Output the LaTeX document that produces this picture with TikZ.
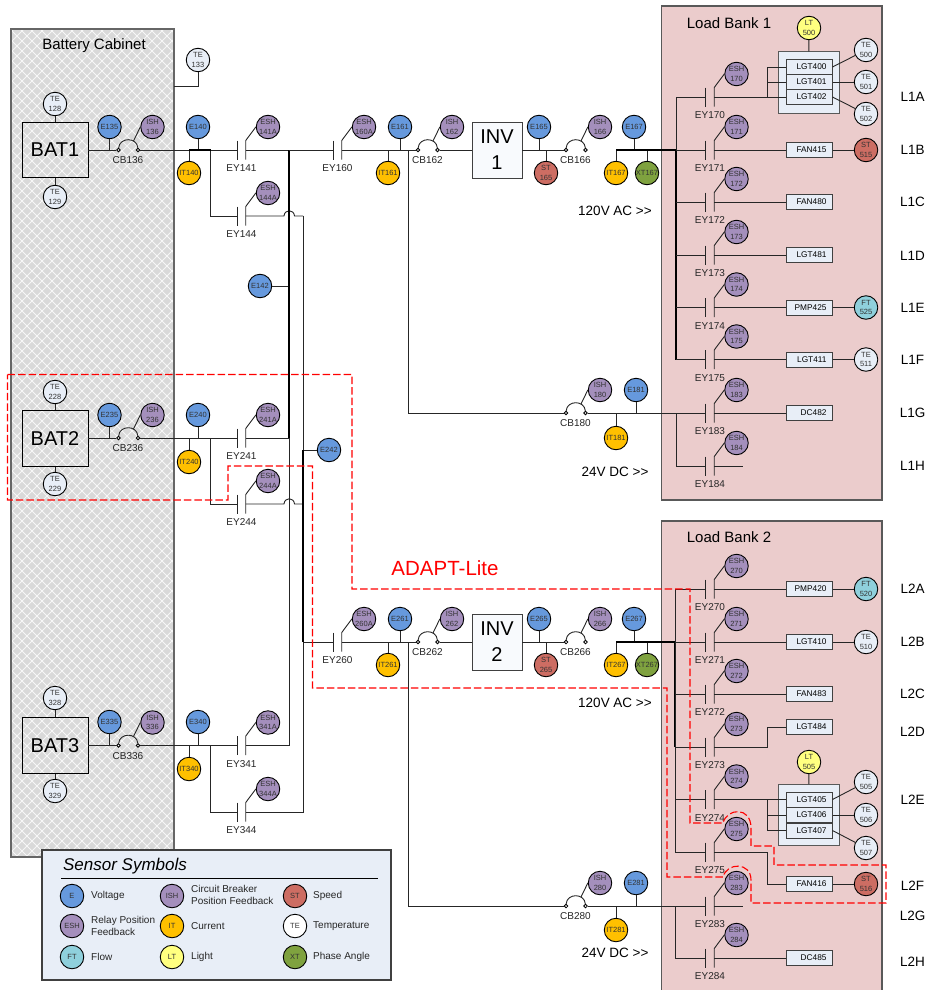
\documentclass[tikz,border=0pt]{standalone}
\usepackage{fontspec}
\setmainfont{Liberation Sans}

\definecolor{cabinetgray}{HTML}{D9D9D9}
\definecolor{bankpink}{HTML}{EBCCCC}
\definecolor{paleblue}{HTML}{E8EEF7}
\definecolor{voltblue}{HTML}{6699DD}
\definecolor{relaypurple}{HTML}{A48FBC}
\definecolor{currorange}{HTML}{FFC000}
\definecolor{speedred}{HTML}{CD6D63}
\definecolor{phasegreen}{HTML}{7FA23F}
\definecolor{flowcyan}{HTML}{8FD0DC}
\definecolor{lightyellow}{HTML}{FFFF80}

% contact: name, x, y, sensor text, label
\newcommand{\contact}[5]{%
  \coordinate (#1a) at (#2-4.25,#3);
  \coordinate (#1b) at (#2+4.25,#3);
  \coordinate (#1c) at (#2+4.25,#3-9.5);
  \coordinate (#1d) at (#2+4.25,#3+9.5);
  \coordinate (#1e) at (#2-4.25,#3-9.5);
  \coordinate (#1f) at (#2-4.25,#3+9.5);
  \node[pos node] (#1s) at (#2+26.5,#3-23) {#4};
  \node[tag] (#1t) at (#2,#3+18.5) {#5};
  \draw[wire] (#1e) -- (#1f);
  \draw[wire] (#1s.west) -- (#1c) -- (#1d);
}
% breaker: name, x, y, sensor text, label
\newcommand{\breaker}[5]{%
  \node[pin] (#1a) at (#2,#3) {};
  \node[pin] (#1b) at (#2+19.5,#3) {};
  \coordinate (#1c) at (#2+15,#3-9);
  \node[pos node] (#1s) at (#2+34,#3-23) {#4};
  \node[tag] (#1t) at (#2+9.5,#3+10.5) {#5};
  \draw[wire] (#1a) .. controls +(1,-13) and +(-1,-13) .. (#1b);
  \draw[wire] (#1c) -- (#1s.west);
}

\begin{document}
\begin{tikzpicture}[x=1pt,y=-1pt,
                    sensor/.style={circle,draw,line width=0.9pt,minimum size=23.5pt,inner sep=0pt,align=center,
                                   text=black!80,font=\fontsize{7.5}{9.5}\selectfont},
                    volt node/.style={sensor,fill=voltblue},
                    pos node/.style={sensor,fill=relaypurple},
                    curr node/.style={sensor,fill=currorange},
                    speed node/.style={sensor,fill=speedred},
                    temp node/.style={sensor,fill=paleblue},
                    phase node/.style={sensor,fill=phasegreen},
                    flow node/.style={sensor,fill=flowcyan},
                    light node/.style={sensor,fill=lightyellow},
                    pin/.style={circle,draw,fill=white,line width=0.8pt,minimum size=3.6pt,inner sep=0pt},
                    tag/.style={inner sep=0pt,font=\fontsize{10}{12}\selectfont,text=black!85},
                    big tag/.style={inner sep=0pt,font=\fontsize{13.5}{15}\selectfont},
                    title/.style={inner sep=0pt,font=\fontsize{15}{17}\selectfont},
                    load/.style={rectangle,draw=black!75,fill=paleblue,line width=1pt,minimum width=46pt,minimum height=15pt,
                                 text width=35pt,align=right,inner sep=0pt,font=\fontsize{8.3}{9}\selectfont},
                    load bank/.style={rectangle,draw=black!65,fill=paleblue,line width=1pt,minimum width=61pt,minimum height=61pt},
                    source/.style={rectangle,draw,line width=0.9pt,minimum width=66pt,minimum height=55.5pt,inner sep=0pt,
                                   font=\fontsize{20}{22}\selectfont},
                    inverter/.style={rectangle,draw=black!75,fill=paleblue!30,line width=0.9pt,minimum width=50pt,minimum height=56pt,
                                     inner sep=0pt,align=center,font=\fontsize{20}{26}\selectfont},
                    wire/.style={line width=0.9pt,draw=black!85},
                    bus/.style={line width=1.3pt,draw=black},
                    lattice/.style={line width=0.8pt,draw=white!80!cabinetgray},
                    adapt/.style={red,line width=1.1pt,dash pattern=on 7.5pt off 3pt}
                   ]
  \useasboundingbox (0,0) rectangle (927,990);

  % backgrounds
  \fill[cabinetgray] (11,29) rectangle (174,857);
  \begin{scope}
    \clip (11,29) rectangle (174,857);
    \foreach \k in {-830,-820,...,170} {
      \draw[lattice] (\k,29) -- ++(830,830);
      \draw[lattice] (\k+14,29) ++(830,0) -- ++(-830,830);
    }
  \end{scope}
  \draw[draw=black!60,line width=1.2pt] (11,29) rectangle (174,857);
  \draw[draw=black!65,line width=1.1pt,fill=bankpink] (661.5,6) rectangle (882,500);
  \draw[draw=black!65,line width=1.1pt,fill=bankpink] (661.5,521) rectangle (882,1000);
  \node[title] (cabtitle) at (94,46) {Battery Cabinet};
  \node[title] (bank1title) at (729,23) {Load Bank 1};
  \node[title] (bank2title) at (729,537) {Load Bank 2};

  % battery one
  \node[source] (bat1) at (55,150) {BAT1};
  \node[temp node] (te128) at (55,104) {TE\\128};
  \node[temp node] (te129) at (55,197) {TE\\129};
  \node[temp node] (te133) at (198,60) {TE\\133};
  \coordinate (cab133) at (174,86);
  \node[volt node] (e135) at (109.5,127) {E135};
  \node[volt node] (e140) at (198,127) {E140};
  \node[curr node] (it140) at (189,173) {IT140};
  \node[volt node] (e142) at (260,286) {E142};
  \breaker{cb136}{118.5}{150}{ISH\\136}{CB136}
  \contact{ey141}{241.5}{150}{ESH\\141A}{EY141}
  \contact{ey144}{241.5}{216}{ESH\\144A}{EY144}

  % battery two
  \node[source] (bat2) at (55,438.5) {BAT2};
  \node[temp node] (te228) at (55,392) {TE\\228};
  \node[temp node] (te229) at (55,484) {TE\\229};
  \node[volt node] (e235) at (109.5,415) {E235};
  \node[volt node] (e240) at (198,415) {E240};
  \node[curr node] (it240) at (189,462) {IT240};
  \node[volt node] (e242) at (329,450) {E242};
  \breaker{cb236}{118.5}{438}{ISH\\236}{CB236}
  \contact{ey241}{241.5}{438}{ESH\\241A}{EY241}
  \contact{ey244}{241.5}{504}{ESH\\244A}{EY244}

  % battery three
  \node[source] (bat3) at (55,745.5) {BAT3};
  \node[temp node] (te328) at (55,698) {TE\\328};
  \node[temp node] (te329) at (55,791) {TE\\329};
  \node[volt node] (e335) at (109.5,722) {E335};
  \node[volt node] (e340) at (198,722) {E340};
  \node[curr node] (it340) at (189,769) {IT340};
  \breaker{cb336}{118.5}{745.5}{ISH\\336}{CB336}
  \contact{ey341}{241.5}{745.5}{ESH\\341A}{EY341}
  \contact{ey344}{241.5}{812}{ESH\\344A}{EY344}

  % junctions left of the inverters
  \coordinate (bus141) at (289,150);
  \coordinate (bus241) at (289,438);
  \coordinate (bus341) at (289,745.5);
  \coordinate (bus144) at (303,216);
  \coordinate (bus242) at (303,450);
  \coordinate (bus244) at (303,504);
  \coordinate (bus344) at (303,812);
  \coordinate (bus260) at (303,642);
  \coordinate (bump144a) at (284,216);
  \coordinate (bump144b) at (294.5,216);
  \coordinate (bump244a) at (284,504);
  \coordinate (bump244b) at (294.5,504);
  \coordinate (br140) at (210.5,150);
  \coordinate (br240) at (210.5,438);
  \coordinate (br340) at (210.5,745.5);

  % inverter one
  \contact{ey160}{337.5}{150}{ESH\\160A}{EY160}
  \node[volt node] (e161) at (400,127) {E161};
  \node[curr node] (it161) at (388,173) {IT161};
  \breaker{cb162}{418}{150}{ISH\\162}{CB162}
  \node[inverter] (inv1) at (497,150) {INV\\1};
  \node[volt node] (e165) at (539,127) {E165};
  \node[speed node] (st165) at (546,173) {ST\\165};
  \breaker{cb166}{566}{150}{ISH\\166}{CB166}
  \node[volt node] (e167) at (634,127) {E167};
  \node[curr node] (it167) at (616,173) {IT167};
  \node[phase node] (xt167) at (647,173) {XT167};
  \node[big tag] (ac1) at (615,211) {120V AC >{}>};
  \breaker{cb180}{566}{413}{ISH\\180}{CB180}
  \node[volt node] (e181) at (636,390) {E181};
  \node[curr node] (it181) at (616,438) {IT181};
  \node[big tag] (dc1) at (615,472) {24V DC >{}>};
  \coordinate (br161) at (408,150);
  \coordinate (br180) at (408,413);

  % inverter two
  \contact{ey260}{337.5}{642}{ESH\\260A}{EY260}
  \node[volt node] (e261) at (400,619) {E261};
  \node[curr node] (it261) at (388,665) {IT261};
  \breaker{cb262}{418}{642}{ISH\\262}{CB262}
  \node[inverter] (inv2) at (497,642) {INV\\2};
  \node[volt node] (e265) at (539,619) {E265};
  \node[speed node] (st265) at (546,665) {ST\\265};
  \breaker{cb266}{566}{642}{ISH\\266}{CB266}
  \node[volt node] (e267) at (634,619) {E267};
  \node[curr node] (it267) at (616,665) {IT267};
  \node[phase node] (xt267) at (647,665) {XT267};
  \node[big tag] (ac2) at (615,703) {120V AC >{}>};
  \breaker{cb280}{566}{906}{ISH\\280}{CB280}
  \node[volt node] (e281) at (636,883) {E281};
  \node[curr node] (it281) at (616,930) {IT281};
  \node[big tag] (dc2) at (615,953) {24V DC >{}>};
  \coordinate (br261) at (408,642);
  \coordinate (br280) at (408,906);

  % load bank one
  \coordinate (bus1) at (676,0);
  \contact{ey170}{710}{97}{ESH\\170}{EY170}
  \contact{ey171}{710}{150}{ESH\\171}{EY171}
  \contact{ey172}{710}{202}{ESH\\172}{EY172}
  \contact{ey173}{710}{255}{ESH\\173}{EY173}
  \contact{ey174}{710}{307.5}{ESH\\174}{EY174}
  \contact{ey175}{710}{359.5}{ESH\\175}{EY175}
  \contact{ey183}{710}{413}{ESH\\183}{EY183}
  \contact{ey184}{710}{466}{ESH\\184}{EY184}
  \coordinate (open184) at (743,466);
  \node[load bank] (bank1) at (808.5,82.5) {};
  \node[load] (lgt400) at (809,67) {LGT400};
  \node[load] (lgt401) at (809,82) {LGT401};
  \node[load] (lgt402) at (809,97) {LGT402};
  \node[load] (fan415) at (809,150) {FAN415};
  \node[load] (fan480) at (809,202) {FAN480};
  \node[load] (lgt481) at (809,255) {LGT481};
  \node[load] (pmp425) at (809,307.5) {PMP425};
  \node[load] (lgt411) at (809,359.5) {LGT411};
  \node[load] (dc482) at (809,413) {DC482};
  \node[light node] (lt500) at (809,28) {LT\\500};
  \node[temp node] (te500) at (866,50) {TE\\500};
  \node[temp node] (te501) at (866,82) {TE\\501};
  \node[temp node] (te502) at (866,114) {TE\\502};
  \node[speed node] (st515) at (866,150) {ST\\515};
  \node[flow node] (ft525) at (866,307.5) {FT\\525};
  \node[temp node] (te511) at (866,359.5) {TE\\511};
  \coordinate (fork1) at (767,97);

  % load bank two
  \coordinate (bus2) at (675,0);
  \contact{ey270}{710}{589}{ESH\\270}{EY270}
  \contact{ey271}{710}{642}{ESH\\271}{EY271}
  \contact{ey272}{710}{694}{ESH\\272}{EY272}
  \contact{ey273}{710}{747}{ESH\\273}{EY273}
  \contact{ey274}{710}{799.5}{ESH\\274}{EY274}
  \contact{ey275}{710}{852}{ESH\\275}{EY275}
  \contact{ey283}{710}{906}{ESH\\283}{EY283}
  \contact{ey284}{710}{958}{ESH\\284}{EY284}
  \coordinate (open283) at (743,906);
  \node[load bank] (bank2) at (808.5,815) {};
  \node[load] (lgt405) at (809,799.5) {LGT405};
  \node[load] (lgt406) at (809,815) {LGT406};
  \node[load] (lgt407) at (809,830.5) {LGT407};
  \node[load] (pmp420) at (809,589) {PMP420};
  \node[load] (lgt410) at (809,642) {LGT410};
  \node[load] (fan483) at (809,694) {FAN483};
  \node[load] (lgt484) at (809,727) {LGT484};
  \node[load] (fan416) at (809,884) {FAN416};
  \node[load] (dc485) at (809,958) {DC485};
  \node[light node] (lt505) at (809,762) {LT\\505};
  \node[temp node] (te505) at (866,782) {TE\\505};
  \node[temp node] (te506) at (866,815) {TE\\506};
  \node[temp node] (te507) at (866,848) {TE\\507};
  \node[flow node] (ft520) at (866,589) {FT\\520};
  \node[temp node] (te510) at (866,642) {TE\\510};
  \node[speed node] (st516) at (866,884) {ST\\516};
  \coordinate (fork2) at (767,799.5);
  \coordinate (bend273) at (767,747);
  \coordinate (bend275) at (767,852);

  % line names
  \node[big tag] (l1a) at (912.5,97) {L1A};
  \node[big tag] (l1b) at (912.5,150) {L1B};
  \node[big tag] (l1c) at (912.5,202) {L1C};
  \node[big tag] (l1d) at (912.5,256) {L1D};
  \node[big tag] (l1e) at (912.5,308) {L1E};
  \node[big tag] (l1f) at (912.5,360) {L1F};
  \node[big tag] (l1g) at (912.5,413) {L1G};
  \node[big tag] (l1h) at (912.5,466) {L1H};
  \node[big tag] (l2a) at (912.5,589) {L2A};
  \node[big tag] (l2b) at (912.5,642) {L2B};
  \node[big tag] (l2c) at (912.5,694) {L2C};
  \node[big tag] (l2d) at (912.5,732) {L2D};
  \node[big tag] (l2e) at (912.5,800) {L2E};
  \node[big tag] (l2f) at (912.5,886) {L2F};
  \node[big tag] (l2g) at (912.5,916) {L2G};
  \node[big tag] (l2h) at (912.5,962) {L2H};

  % wiring, batteries
  \path[wire]
    (te128) edge (bat1)
    (te129) edge (bat1)
    (bat1) edge (cb136a)
    (e135) edge (e135 |- cb136a)
    (cb136b) edge (ey141a)
    (e140) edge (e140 |- cb136a)
    (it140) edge (it140 |- cb136a)
    (te228) edge (bat2)
    (te229) edge (bat2)
    (bat2.east |- cb236a) edge (cb236a)
    (e235) edge (e235 |- cb236a)
    (cb236b) edge (ey241a)
    (e240) edge (e240 |- cb236a)
    (it240) edge (it240 |- cb236a)
    (ey241b) edge (bus241)
    (te328) edge (bat3)
    (te329) edge (bat3)
    (bat3) edge (cb336a)
    (e335) edge (e335 |- cb336a)
    (cb336b) edge (ey341a)
    (e340) edge (e340 |- cb336a)
    (it340) edge (it340 |- cb336a);
  \draw[wire] (te133) |- (cab133);
  \draw[wire] (br140) |- (ey144a);
  \draw[wire] (br240) |- (ey244a);
  \draw[wire] (br340) |- (ey344a);
  \draw[wire] (ey144b) -- (bump144a) .. controls +(0.5,-7) and +(-0.5,-7) .. (bump144b) -- (bus144);
  \draw[wire] (ey244b) -- (bump244a) .. controls +(0.5,-7) and +(-0.5,-7) .. (bump244b) -- (bus244);
  \draw[wire] (ey341b) -- (bus341) -- (bus141) -- (ey141b);
  \draw[wire] (ey344b) -- (bus344) -- (bus144);
  \draw[wire] (e142) -- (e142 -| bus141);
  \draw[wire] (e242) -- (bus242);
  \draw[bus] (bus141) -- (bus241);
  \draw[bus] (bus242) -- (bus260);
  \draw[bus] (it140 |- cb136a) -- (br140);

  % wiring, inverters
  \path[wire]
    (bus141) edge (ey160a)
    (ey160b) edge (cb162a)
    (e161) edge (e161 |- cb162a)
    (it161) edge (it161 |- cb162a)
    (cb162b) edge (inv1)
    (inv1) edge (cb166a)
    (e165) edge (e165 |- cb166a)
    (st165) edge (st165 |- cb166a)
    (e167) edge (e167 |- cb166b)
    (it167) edge (it167 |- cb166b)
    (xt167) edge (xt167 |- cb166b)
    (br161) edge (br180)
    (br180) edge (cb180a)
    (e181) edge (e181 |- cb180b)
    (it181) edge (it181 |- cb180b)
    (bus260) edge (ey260a)
    (ey260b) edge (cb262a)
    (e261) edge (e261 |- cb262a)
    (it261) edge (it261 |- cb262a)
    (cb262b) edge (inv2)
    (inv2) edge (cb266a)
    (e265) edge (e265 |- cb266a)
    (st265) edge (st265 |- cb266a)
    (e267) edge (e267 |- cb266b)
    (it267) edge (it267 |- cb266b)
    (xt267) edge (xt267 |- cb266b)
    (br261) edge (br280)
    (br280) edge (cb280a)
    (e281) edge (e281 |- cb280b)
    (it281) edge (it281 |- cb280b);
  \draw[bus] (it167 |- cb166b) -- (cb166b -| bus1);
  \draw[bus] (it267 |- cb266b) -- (cb266b -| bus2);

  % wiring, load bank one
  \draw[bus] (ey171a -| bus1) -- (ey175a -| bus1);
  \path[wire]
    (ey170a -| bus1) edge (ey171a -| bus1)
    (ey170a -| bus1) edge (ey170a)
    (ey171a -| bus1) edge (ey171a)
    (ey172a -| bus1) edge (ey172a)
    (ey173a -| bus1) edge (ey173a)
    (ey174a -| bus1) edge (ey174a)
    (ey175a -| bus1) edge (ey175a)
    (cb180b) edge (ey183a)
    (ey183a -| bus1) edge (ey184a -| bus1)
    (ey184a -| bus1) edge (ey184a)
    (ey170b) edge (lgt402)
    (fork1) edge (fork1 |- lgt400)
    (fork1 |- lgt400) edge (lgt400)
    (fork1 |- lgt401) edge (lgt401)
    (ey171b) edge (fan415)
    (ey172b) edge (fan480)
    (ey173b) edge (lgt481)
    (ey174b) edge (pmp425)
    (ey175b) edge (lgt411)
    (ey183b) edge (dc482)
    (ey184b) edge (open184)
    (lt500) edge (bank1)
    (lgt400.east) edge (te500)
    (lgt401) edge (te501)
    (lgt402.east) edge (te502)
    (fan415) edge (st515)
    (pmp425) edge (ft525)
    (lgt411) edge (te511);

  % wiring, load bank two
  \draw[bus] (ey271a -| bus2) -- (ey273a -| bus2);
  \path[wire]
    (ey270a -| bus2) edge (ey275a -| bus2)
    (ey270a -| bus2) edge (ey270a)
    (ey271a -| bus2) edge (ey271a)
    (ey272a -| bus2) edge (ey272a)
    (ey273a -| bus2) edge (ey273a)
    (ey274a -| bus2) edge (ey274a)
    (ey275a -| bus2) edge (ey275a)
    (cb280b) edge (ey283a)
    (ey283a -| bus2) edge (ey284a -| bus2)
    (ey284a -| bus2) edge (ey284a)
    (ey270b) edge (pmp420)
    (ey271b) edge (lgt410)
    (ey272b) edge (fan483)
    (ey274b) edge (lgt405)
    (fork2) edge (fork2 |- lgt407)
    (fork2 |- lgt406) edge (lgt406)
    (fork2 |- lgt407) edge (lgt407)
    (ey283b) edge (open283)
    (ey284b) edge (dc485)
    (lt505) edge (bank2)
    (lgt405.east) edge (te505)
    (lgt406) edge (te506)
    (lgt407.east) edge (te507)
    (pmp420) edge (ft520)
    (lgt410) edge (te510)
    (fan416) edge (st516);
  \draw[wire] (ey273b) -- (bend273) |- (lgt484);
  \draw[wire] (ey275b) -- (bend275) |- (fan416);

  % test region outline
  \draw[adapt] (7.5,374.5) -- (352,374.5) -- (352,589) -- (690,589) -- (690,823) -- (723,823)
    .. controls (727,808) and (751,806) .. (751,828) -- (751,846) -- (774,846) -- (774,865) -- (886,865)
    -- (886,903) -- (751,903) -- (751,880) .. controls (751,862) and (727,862) .. (723,877) -- (667,877)
    -- (667,688) -- (312.5,688) -- (312.5,466) -- (228,466) -- (228,500) -- (7.5,500) -- cycle;
  \node[inner sep=0pt,text=red,font=\fontsize{20.5}{22}\selectfont] (adaptname) at (445,568) {ADAPT-Lite};

  % legend
  \draw[draw=black!75,line width=1.1pt,fill=paleblue] (42,850) rectangle (391,980);
  \node[inner sep=0pt,font=\fontsize{17}{19}\selectfont\itshape] (legendtitle) at (125,866) {Sensor Symbols};
  \coordinate (ruleleft) at (61,878);
  \coordinate (ruleright) at (378,878);
  \draw[wire,black] (ruleleft) -- (ruleright);
  \node[volt node] (keye) at (72,896) {E};
  \node[pos node] (keyesh) at (72,926) {ESH};
  \node[flow node] (keyft) at (72,957) {FT};
  \node[pos node] (keyish) at (172,896) {ISH};
  \node[curr node] (keyit) at (172,926) {IT};
  \node[light node] (keylt) at (172,957) {LT};
  \node[speed node] (keyst) at (295,896) {ST};
  \node[temp node,fill=white] (keyte) at (295,926) {TE};
  \node[phase node] (keyxt) at (295,957) {XT};
  \node[tag,anchor=west] (keyetext) at (91,896) {Voltage};
  \node[tag,anchor=west,align=left] (keyeshtext) at (91,926) {Relay Position\\Feedback};
  \node[tag,anchor=west] (keyfttext) at (91,957) {Flow};
  \node[tag,anchor=west,align=left] (keyishtext) at (191,895) {Circuit Breaker\\Position Feedback};
  \node[tag,anchor=west] (keyittext) at (191,926) {Current};
  \node[tag,anchor=west] (keylttext) at (191,957) {Light};
  \node[tag,anchor=west] (keysttext) at (313,896) {Speed};
  \node[tag,anchor=west] (keytetext) at (313,926) {Temperature};
  \node[tag,anchor=west] (keyxttext) at (313,957) {Phase Angle};
\end{tikzpicture}
\end{document}
